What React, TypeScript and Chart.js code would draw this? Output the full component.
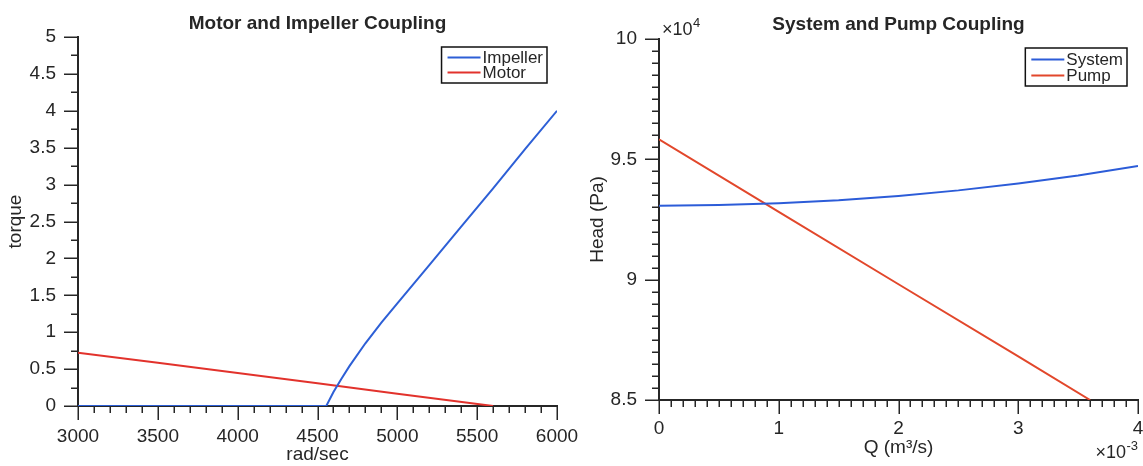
import React, { useEffect, useRef } from 'react';
import { Chart, registerables } from 'chart.js';

Chart.register(...registerables);

const FONT = '"Liberation Sans", Arial, Helvetica, sans-serif';
const TEXT = '#262626';
const AXIS = '#262626';

// ---------- Left chart: Motor and Impeller Coupling ----------
const speedTicks = [3000, 3500, 4000, 4500, 5000, 5500, 6000];
const torqueTicks = [0, 0.5, 1, 1.5, 2, 2.5, 3, 3.5, 4, 4.5, 5];
const impellerSpeed = [3000, 3500, 4000, 4500, 4555, 4600, 4650, 4700, 4800, 4900, 5000, 5200, 5400, 5600, 5800, 6000];
const impellerTorque = [0, 0, 0, 0, 0, 0.19, 0.37, 0.54, 0.85, 1.13, 1.39, 1.91, 2.43, 2.95, 3.48, 4.0];
const motorSpeed = [3000, 3500, 4000, 4500, 5000, 5600];
const motorTorque = [0.72, 0.585, 0.447, 0.308, 0.167, 0];

// ---------- Right chart: System and Pump Coupling ----------
const flowTicks = [0, 0.001, 0.002, 0.003, 0.004];
const headTicks = [85000, 90000, 95000, 100000];
const systemFlow = [0, 0.0005, 0.001, 0.0015, 0.002, 0.0025, 0.003, 0.0035, 0.004];
const systemHead = [93070, 93100, 93180, 93300, 93480, 93710, 94000, 94330, 94720];
const pumpFlow = [0, 0.001, 0.002, 0.003, 0.0036];
const pumpHead = [95830, 92820, 89810, 86810, 85000];

const toPoints = (xs: number[], ys: number[]) => xs.map((x, i) => ({ x, y: ys[i] }));

type AxisCfg = {
  xMin: number; xMax: number; xMinorCount: number; xMajorEvery: number;
  yMin: number; yMax: number; yMinorCount: number; yMajorEvery: number;
};

const axesPlugin = (a: AxisCfg) => ({
  id: 'matlabAxes',
  beforeDatasetsDraw(chart: any) {
    const { ctx, chartArea } = chart;
    const { left, right, top, bottom } = chartArea;
    const xs = chart.scales.x;
    const ys = chart.scales.y;
    ctx.save();
    ctx.strokeStyle = AXIS;
    ctx.lineCap = 'butt';
    ctx.lineWidth = 1.5;
    for (let i = 0; i <= a.xMinorCount; i++) {
      const v = a.xMin + (i * (a.xMax - a.xMin)) / a.xMinorCount;
      const px = Math.round(xs.getPixelForValue(v)) + 0.25;
      const len = i % a.xMajorEvery === 0 ? 14 : 7;
      ctx.beginPath();
      ctx.moveTo(px, bottom);
      ctx.lineTo(px, bottom + len);
      ctx.stroke();
    }
    for (let i = 0; i <= a.yMinorCount; i++) {
      const v = a.yMin + (i * (a.yMax - a.yMin)) / a.yMinorCount;
      const py = Math.round(ys.getPixelForValue(v)) + 0.25;
      const len = i % a.yMajorEvery === 0 ? 14 : 7;
      ctx.beginPath();
      ctx.moveTo(left, py);
      ctx.lineTo(left - len, py);
      ctx.stroke();
    }
    ctx.lineWidth = 2;
    ctx.beginPath();
    ctx.moveTo(left, top - 1);
    ctx.lineTo(left, bottom);
    ctx.lineTo(right + 1, bottom);
    ctx.stroke();
    ctx.restore();
  },
});

type LegendCfg = { offsetRight: number; offsetTop: number; height: number; firstRow: number; rowGap: number };

const legendPlugin = (l: LegendCfg) => ({
  id: 'boxLegend',
  afterDatasetsDraw(chart: any) {
    const { ctx, chartArea } = chart;
    const ds = chart.data.datasets;
    ctx.save();
    ctx.font = `17px ${FONT}`;
    const textW = Math.max(...ds.map((d: any) => ctx.measureText(d.label).width));
    const boxW = 6 + 33 + 2 + textW + 4;
    const right = chartArea.right - l.offsetRight;
    const boxLeft = right - boxW;
    const boxTop = chartArea.top + l.offsetTop;
    ctx.fillStyle = '#ffffff';
    ctx.fillRect(boxLeft, boxTop, boxW, l.height);
    ctx.strokeStyle = '#111111';
    ctx.lineWidth = 1.5;
    ctx.strokeRect(boxLeft, boxTop, boxW, l.height);
    ds.forEach((d: any, i: number) => {
      const yy = boxTop + l.firstRow + i * l.rowGap;
      ctx.strokeStyle = d.borderColor;
      ctx.lineWidth = 2;
      ctx.beginPath();
      ctx.moveTo(boxLeft + 6, yy);
      ctx.lineTo(boxLeft + 39, yy);
      ctx.stroke();
      ctx.fillStyle = TEXT;
      ctx.textAlign = 'left';
      ctx.textBaseline = 'middle';
      ctx.fillText(d.label, boxLeft + 41, yy + 1);
    });
    ctx.restore();
  },
});

const drawPow = (ctx: any, x: number, baseline: number, exp: string, align: 'left' | 'right') => {
  ctx.save();
  ctx.font = `18px ${FONT}`;
  const base = '×10';
  const bw = ctx.measureText(base).width;
  ctx.font = `13px ${FONT}`;
  const ew = ctx.measureText(exp).width;
  const x0 = align === 'left' ? x : x - bw - ew - 0.5;
  ctx.fillStyle = TEXT;
  ctx.textAlign = 'left';
  ctx.textBaseline = 'alphabetic';
  ctx.font = `18px ${FONT}`;
  ctx.fillText(base, x0, baseline);
  ctx.font = `13px ${FONT}`;
  ctx.fillText(exp, x0 + bw + 0.5, baseline - 8);
  ctx.restore();
};

type Layout = {
  title: string; titlePad: { top: number; bottom: number };
  xTitle: string; xTitlePadBottom: number; yTitle: string; yTitlePadTop: number;
  yAxisWidth: number; xAxisHeight: number; padRight: number;
  xTickPad: number; yTickPad: number;
  xMin: number; xMax: number; yMin: number; yMax: number;
  xTicks: number[]; yTicks: number[];
  xFmt: (v: number) => string; yFmt: (v: number) => string;
};

const buildOptions = (o: Layout): any => ({
  animation: false,
  responsive: false,
  maintainAspectRatio: false,
  layout: { padding: { left: 0, right: o.padRight, top: 0, bottom: 0 } },
  plugins: {
    legend: { display: false },
    tooltip: { enabled: false },
    title: {
      display: true,
      text: o.title,
      fullSize: false,
      color: TEXT,
      font: { family: FONT, size: 19, weight: 'bold', lineHeight: 1.2 },
      padding: o.titlePad,
    },
  },
  scales: {
    x: {
      type: 'linear',
      min: o.xMin,
      max: o.xMax,
      afterBuildTicks: (s: any) => { s.ticks = o.xTicks.map((v) => ({ value: v })); },
      afterFit: (s: any) => { s.height = o.xAxisHeight; s.paddingLeft = 0; s.paddingRight = 0; },
      grid: { display: false, drawTicks: false, tickLength: 0 },
      border: { display: false },
      ticks: {
        color: TEXT,
        font: { family: FONT, size: 19 },
        padding: o.xTickPad,
        maxRotation: 0,
        autoSkip: false,
        callback: (v: any) => o.xFmt(Number(v)),
      },
      title: {
        display: true,
        text: o.xTitle,
        color: TEXT,
        font: { family: FONT, size: 19, lineHeight: 1.2 },
        padding: { top: 0, bottom: o.xTitlePadBottom },
      },
    },
    y: {
      type: 'linear',
      min: o.yMin,
      max: o.yMax,
      afterBuildTicks: (s: any) => { s.ticks = o.yTicks.map((v) => ({ value: v })); },
      afterFit: (s: any) => { s.width = o.yAxisWidth; s.paddingTop = 0; s.paddingBottom = 0; },
      grid: { display: false, drawTicks: false, tickLength: 0 },
      border: { display: false },
      ticks: {
        color: TEXT,
        font: { family: FONT, size: 19 },
        padding: o.yTickPad,
        autoSkip: false,
        callback: (v: any) => o.yFmt(Number(v)),
      },
      title: {
        display: true,
        text: o.yTitle,
        color: TEXT,
        font: { family: FONT, size: 19, lineHeight: 1.2 },
        padding: { top: o.yTitlePadTop, bottom: 0 },
      },
    },
  },
});

const lineDs = (label: string, color: string, data: { x: number; y: number }[]) => ({
  label,
  data,
  borderColor: color,
  backgroundColor: color,
  borderWidth: 2,
  pointRadius: 0,
  tension: 0,
  fill: false,
});

const leftConfig = (): any => ({
  type: 'line',
  data: {
    datasets: [
      lineDs('Impeller', '#2d5fd6', toPoints(impellerSpeed, impellerTorque)),
      lineDs('Motor', '#e2322c', toPoints(motorSpeed, motorTorque)),
    ],
  },
  options: buildOptions({
    title: 'Motor and Impeller Coupling',
    titlePad: { top: 12, bottom: 2.2 },
    xTitle: 'rad/sec',
    xTitlePadBottom: 0,
    yTitle: 'torque',
    yTitlePadTop: 4.6,
    yAxisWidth: 78,
    xAxisHeight: 60,
    padRight: 43,
    xTickPad: 19.5,
    yTickPad: 22,
    xMin: 3000, xMax: 6000, yMin: 0, yMax: 5,
    xTicks: speedTicks, yTicks: torqueTicks,
    xFmt: (v) => String(v),
    yFmt: (v) => String(v),
  }),
  plugins: [
    axesPlugin({ xMin: 3000, xMax: 6000, xMinorCount: 30, xMajorEvery: 5, yMin: 0, yMax: 5, yMinorCount: 20, yMajorEvery: 2 }),
    legendPlugin({ offsetRight: 10, offsetTop: 10, height: 36, firstRow: 10.5, rowGap: 15 }),
  ],
});

const rightConfig = (): any => ({
  type: 'line',
  data: {
    datasets: [
      lineDs('System', '#2c5cd8', toPoints(systemFlow, systemHead)),
      lineDs('Pump', '#e2472b', toPoints(pumpFlow, pumpHead)),
    ],
  },
  options: buildOptions({
    title: 'System and Pump Coupling',
    titlePad: { top: 13.6, bottom: 2.6 },
    xTitle: 'Q (m³/s)',
    xTitlePadBottom: 6.6,
    yTitle: 'Head (Pa)',
    yTitlePadTop: 16.6,
    yAxisWidth: 89,
    xAxisHeight: 66,
    padRight: 5,
    xTickPad: 17.6,
    yTickPad: 22,
    xMin: 0, xMax: 0.004, yMin: 85000, yMax: 100000,
    xTicks: flowTicks, yTicks: headTicks,
    xFmt: (v) => String(Math.round(v * 1e6) / 1e3),
    yFmt: (v) => String(Math.round(v / 10) / 1e3),
  }),
  plugins: [
    axesPlugin({ xMin: 0, xMax: 0.004, xMinorCount: 40, xMajorEvery: 10, yMin: 85000, yMax: 100000, yMinorCount: 30, yMajorEvery: 10 }),
    legendPlugin({ offsetRight: 11, offsetTop: 9, height: 38, firstRow: 11.5, rowGap: 16 }),
    {
      id: 'exponents',
      afterDraw(chart: any) {
        const { ctx, chartArea } = chart;
        drawPow(ctx, chartArea.left + 3, chartArea.top - 4, '4', 'left');
        drawPow(ctx, chartArea.right, chartArea.bottom + 58, '-3', 'right');
      },
    },
  ],
});

function ChartCanvas({ makeConfig, left, width }: { makeConfig: () => any; left: number; width: number }) {
  const ref = useRef<HTMLCanvasElement>(null);
  useEffect(() => {
    const chart = new Chart(ref.current as HTMLCanvasElement, makeConfig());
    return () => chart.destroy();
  }, []);
  return (
    <canvas
      ref={ref}
      width={width}
      height={466}
      style={{ position: 'absolute', left, top: 0, width, height: 466 }}
    />
  );
}

export default function App() {
  return (
    <div style={{ position: 'fixed', left: 0, top: 0, width: 1143, height: 466, background: '#ffffff', overflow: 'hidden' }}>
      <ChartCanvas makeConfig={leftConfig} left={0} width={600} />
      <ChartCanvas makeConfig={rightConfig} left={570} width={573} />
    </div>
  );
}
